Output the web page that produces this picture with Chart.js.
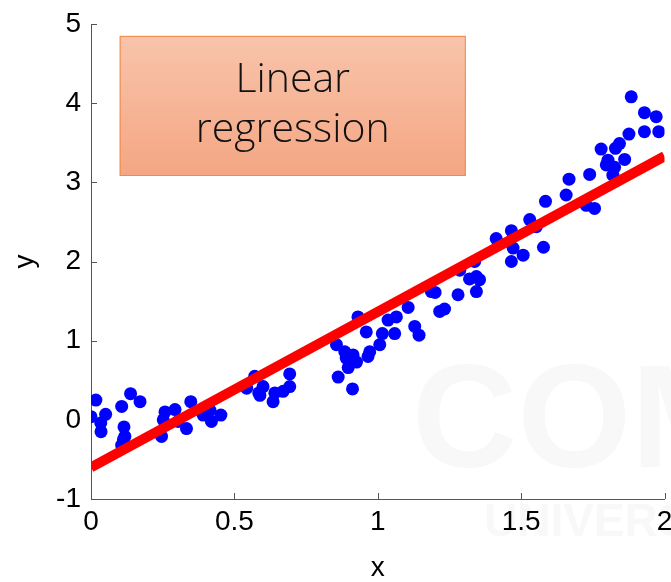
<!DOCTYPE html>
<html>
<head>
<meta charset="utf-8">
<title>Linear regression</title>
<script src="https://cdn.jsdelivr.net/npm/chart.js@4.4.1/dist/chart.umd.min.js"></script>
<style>
  html, body { margin: 0; padding: 0; background: #fff; }
  #wrap { width: 671px; height: 582px; }
</style>
</head>
<body>
<div id="wrap"><canvas id="chartRegression" width="671" height="582"></canvas></div>
<script>
// tick labels
const xTicks = [0, 0.5, 1, 1.5, 2];
const yTicks = [-1, 0, 1, 2, 3, 4, 5];

// noisy samples
const sampleX = [
  0.000, 0.017, 0.034, 0.035, 0.051, 0.107, 0.138, 0.171, 0.115, 0.118, 0.113, 0.107,
  0.252, 0.258, 0.293, 0.246, 0.304, 0.333, 0.348, 0.391, 0.420, 0.453, 0.415,
  0.543, 0.571, 0.585, 0.600, 0.589, 0.641, 0.635, 0.670, 0.693, 0.693,
  0.856, 0.862, 0.885, 0.890, 0.914, 0.926, 0.897, 0.912, 0.931, 0.960, 0.972, 0.966,
  1.007, 1.016, 1.036, 1.065, 1.059, 1.106, 1.129, 1.144, 1.187, 1.200, 1.216, 1.233,
  1.280, 1.286, 1.320, 1.344, 1.355, 1.344, 1.338,
  1.413, 1.466, 1.472, 1.466, 1.507, 1.530, 1.553, 1.578, 1.585, 1.657, 1.667, 1.727, 1.756,
  1.739, 1.779, 1.797, 1.803, 1.820, 1.826, 1.829, 1.843, 1.861, 1.876, 1.884, 1.930, 1.971, 1.930, 1.980
];
const sampleY = [
  0.04, 0.25, -0.04, -0.15, 0.07, 0.17, 0.33, 0.23, -0.09, -0.21, -0.25, -0.32,
  0.00, 0.10, 0.13, -0.21, -0.02, -0.11, 0.23, 0.06, -0.02, 0.06, 0.12,
  0.40, 0.55, 0.34, 0.42, 0.31, 0.34, 0.23, 0.36, 0.42, 0.58,
  0.95, 0.54, 0.86, 0.78, 0.82, 0.73, 0.66, 0.39, 1.30, 1.11, 0.86, 0.80,
  0.95, 1.09, 1.26, 1.30, 1.09, 1.42, 1.18, 1.07, 1.62, 1.61, 1.37, 1.40,
  1.58, 1.89, 1.78, 1.81, 1.77, 1.62, 2.00,
  2.29, 2.39, 2.17, 2.00, 2.08, 2.53, 2.44, 2.18, 2.76, 2.84, 3.04, 2.71, 2.67,
  3.10, 3.42, 3.22, 3.28, 3.09, 3.19, 3.43, 3.49, 3.29, 3.61, 4.08, 3.88, 3.83, 3.64, 3.64
];

// fitted line end points
const fitX = [0, 2];
const fitY = [-0.6, 3.33];

const samples = sampleX.map((x, i) => ({x: x, y: sampleY[i]}));
const fit = fitX.map((x, i) => ({x: x, y: fitY[i]}));

// faint logo behind the plot
const watermark = {
  id: 'watermark',
  beforeDraw(chart) {
    const ctx = chart.ctx;
    ctx.save();
    ctx.fillStyle = '#f8f8f8';
    ctx.textBaseline = 'alphabetic';
    ctx.font = 'bold 146px "Liberation Sans", Arial, sans-serif';
    ctx.fillText('COM', 412, 467);
    ctx.font = 'bold 46px "Liberation Sans", Arial, sans-serif';
    ctx.fillText('UNIVERSITY', 484, 536);
    ctx.restore();
  }
};

// inward tick marks on both axes
const axisTicks = {
  id: 'axisTicks',
  beforeDatasetsDraw(chart) {
    const {ctx, chartArea: a, scales: {x, y}} = chart;
    ctx.save();
    ctx.strokeStyle = '#555';
    ctx.lineWidth = 1;
    ctx.beginPath();
    xTicks.forEach(v => {
      const px = Math.round(x.getPixelForValue(v)) + 0.5;
      ctx.moveTo(px, a.bottom);
      ctx.lineTo(px, a.bottom - 6);
    });
    yTicks.forEach(v => {
      const py = Math.round(y.getPixelForValue(v)) + 0.5;
      ctx.moveTo(a.left, py);
      ctx.lineTo(a.left + 6, py);
    });
    ctx.stroke();
    ctx.restore();
  }
};

// title box in the upper left
const titleBox = {
  id: 'titleBox',
  afterDraw(chart) {
    const {ctx, scales: {x, y}} = chart;
    const left = x.getPixelForValue(0.1);
    const right = x.getPixelForValue(1.307);
    const top = y.getPixelForValue(4.85);
    const bottom = y.getPixelForValue(3.08);
    ctx.save();
    const g = ctx.createLinearGradient(0, top, 0, bottom);
    g.addColorStop(0, '#f8c4ab');
    g.addColorStop(1, '#f4a683');
    ctx.fillStyle = g;
    ctx.fillRect(left, top, right - left, bottom - top);
    ctx.strokeStyle = '#f08a45';
    ctx.lineWidth = 1;
    ctx.strokeRect(left + 0.5, top + 0.5, right - left - 1, bottom - top - 1);
    ctx.fillStyle = '#111';
    ctx.textAlign = 'center';
    ctx.textBaseline = 'alphabetic';
    ctx.font = '300 41px "Open Sans", sans-serif';
    const cx = (left + right) / 2;
    ctx.fillText('Linear', cx, top + 56);
    ctx.fillText('regression', cx, top + 106);
    ctx.restore();
  }
};

const tickFont = {family: '"Liberation Sans", Arial, sans-serif', size: 28};

ctx = document.getElementById('chartRegression').getContext('2d');

myChart = new Chart(ctx, {
  type: 'scatter',
  data: {
    datasets: [
      {
        label: 'fit',
        data: fit,
        showLine: true,
        borderColor: '#ff0000',
        borderWidth: 10,
        borderCapStyle: 'butt',
        pointRadius: 0,
        fill: false,
        order: 0
      },
      {
        label: 'samples',
        data: samples,
        backgroundColor: '#0000ff',
        borderWidth: 0,
        pointRadius: 6.5,
        pointHoverRadius: 6.5,
        order: 1
      }
    ]
  },
  options: {
    responsive: false,
    animation: false,
    events: [],
    layout: { padding: {top: 24, right: 6, bottom: 0, left: 0} },
    plugins: {
      legend: { display: false },
      tooltip: { enabled: false }
    },
    scales: {
      x: {
        type: 'linear',
        min: 0,
        max: 2,
        afterBuildTicks: s => { s.ticks = xTicks.map(v => ({value: v})); },
        afterFit: s => { s.height = 83; s.paddingLeft = 0; s.paddingRight = 0; },
        grid: { display: false, drawTicks: false },
        border: { display: true, color: '#555', width: 1 },
        ticks: { color: '#000', font: tickFont, padding: 6, maxRotation: 0, autoSkip: false, callback: v => String(v) },
        title: { display: true, text: 'x', color: '#000', font: {family: tickFont.family, size: 28, lineHeight: 1}, padding: {top: 0, bottom: 0} }
      },
      y: {
        type: 'linear',
        min: -1,
        max: 5,
        afterBuildTicks: s => { s.ticks = yTicks.map(v => ({value: v})); },
        afterFit: s => { s.width = 91; s.paddingTop = 0; s.paddingBottom = 0; },
        grid: { display: false, drawTicks: false },
        border: { display: true, color: '#555', width: 1 },
        ticks: { color: '#000', font: tickFont, padding: 10, autoSkip: false, callback: v => String(v) },
        title: { display: true, text: 'y', color: '#000', font: {family: tickFont.family, size: 28, lineHeight: 1}, padding: {top: 11, bottom: 0} }
      }
    }
  },
  plugins: [watermark, axisTicks, titleBox]
});
</script>
</body>
</html>
